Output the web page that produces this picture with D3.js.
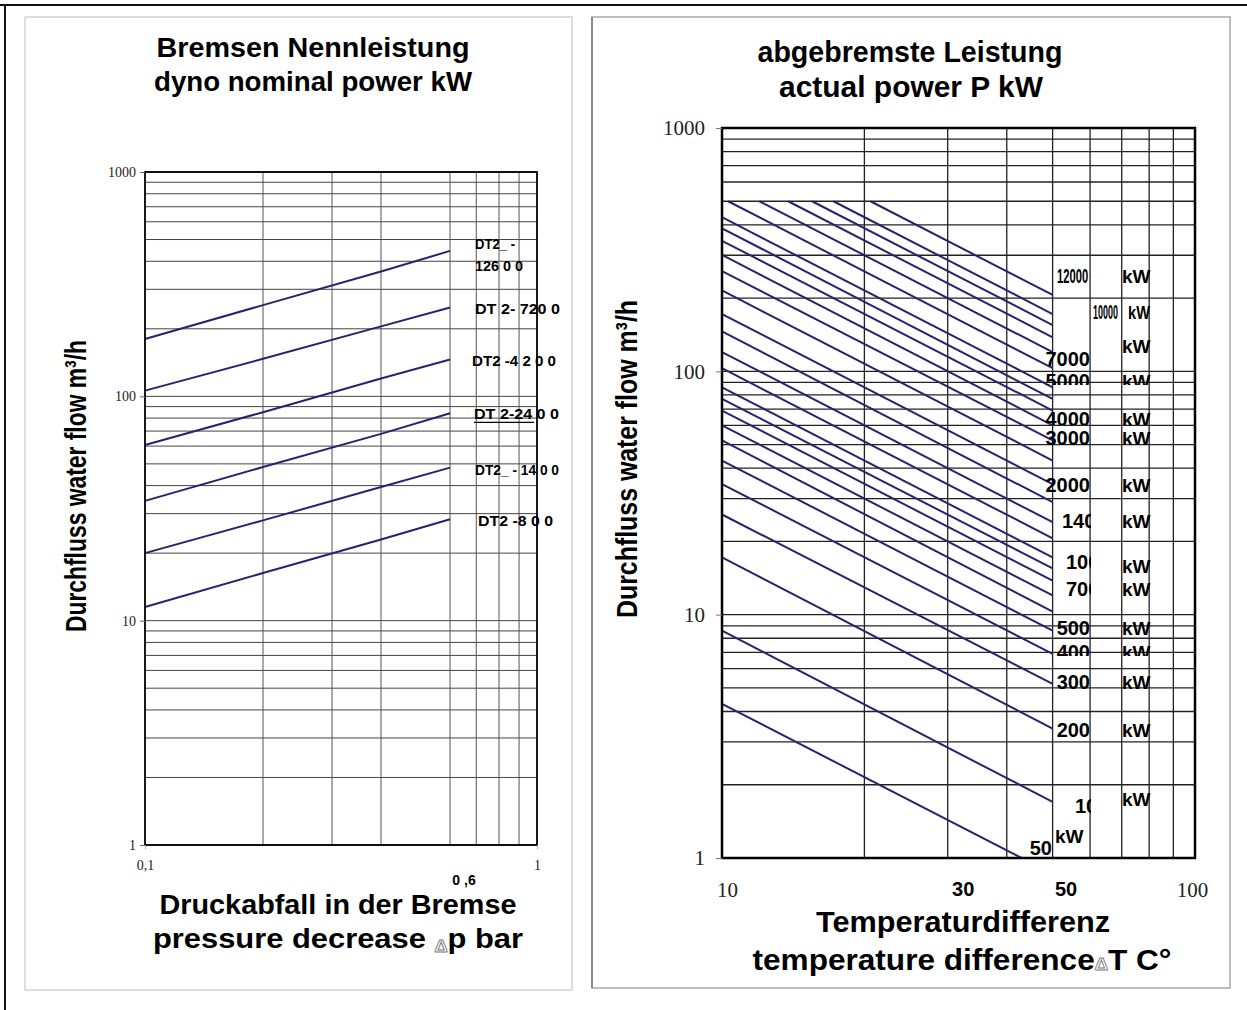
<!DOCTYPE html>
<html>
<head>
<meta charset="utf-8">
<script src="https://cdn.jsdelivr.net/npm/d3@7"></script>
<style>
  body { margin: 0; background: #fff; }
  text { font-family: "Liberation Sans", Arial, sans-serif; }
  .serif { font-family: "Liberation Serif", "Times New Roman", serif; }
</style>
</head>
<body>
<script>
// ---- left chart data (dyno nominal power) ----
const left_dp = [0.1, 0.2, 0.4, 0.6];
const left_names = ["DT2-12600", "DT2-7200", "DT2-4200", "DT2-2400", "DT2-1400", "DT2-800"];
const flow_12600 = [180, 255, 360, 445];
const flow_7200 = [106, 147, 205, 249];
const flow_4200 = [60.7, 85, 120, 146];
const flow_2400 = [34.2, 48.4, 68, 84];
const flow_1400 = [20, 28, 39.4, 48.1];
const flow_800 = [11.5, 16.3, 23, 28.3];
const left_label_text = [["DT2_ -", "126 0 0"], ["DT 2- 720 0"], ["DT2 -4 2 0 0"], ["DT 2-24 0 0"], ["DT2_ - 14 0 0"], ["DT2 -8 0 0"]];
const left_y_ticks = [1, 10, 100, 1000];
const left_x_ticks = [0.1, 1];
const left_x_grid = [0.2, 0.3, 0.4, 0.6, 0.7, 0.8, 0.9];

// ---- right chart data (actual power) ----
const right_power = [12000, 10000, 9000, 8000, 7000, 6000, 5000, 4500, 4000, 3500, 3000, 2500, 2000, 1700, 1400, 1200, 1000, 900, 800, 700, 600, 500, 400, 300, 200, 100, 50];
const right_start_dt = [20.6, 17.2, 15.5, 13.8, 12.0, 10.3, 10, 10, 10, 10, 10, 10, 10, 10, 10, 10, 10, 10, 10, 10, 10, 10, 10, 10, 10, 10, 10];
const right_start_flow = [500, 500, 500, 500, 500, 500, 430, 387, 344, 301, 258, 215, 172, 146, 120, 103, 86, 77, 69, 60, 52, 43, 34.4, 25.8, 17.2, 8.6, 4.3];
const right_end_dt = [50, 50, 50, 50, 50, 50, 50, 50, 50, 50, 50, 50, 50, 50, 50, 50, 50, 50, 50, 50, 50, 50, 50, 50, 50, 50, 43];
const right_end_flow = [206, 172, 155, 138, 120, 103, 86, 77, 69, 60, 52, 43, 34.4, 29, 24, 20.6, 17.2, 15.5, 13.8, 12, 10.3, 8.6, 6.9, 5.2, 3.4, 1.7, 1];
const right_label_power = [12000, 10000, 8000, 7000, 5000, 4000, 3000, 2000, 1400, 1000, 700, 500, 400, 300, 200, 100, 50];
const right_label_text = ["12000", "10000", "", "7000", "5000", "4000", "3000", "2000", "1400", "1000", "700", "500", "400", "300", "200", "100", "50"];
const right_y_ticks = [1, 10, 100, 1000];
const right_x_ticks = [10, 30, 50, 100];
const right_x_grid = [20, 30, 40, 50, 60, 70, 80, 90];

const W = 1247, H = 1010;
const svg = d3.select('body').append('svg').attr('width', W).attr('height', H);
const defs = svg.append('defs');
const navy = '#25246e';

// outer frame and panel frames
svg.append('line').attr('x1', 0).attr('x2', W).attr('y1', 5).attr('y2', 5).attr('stroke', '#111').attr('stroke-width', 2);
svg.append('line').attr('x1', 5).attr('x2', 5).attr('y1', 5).attr('y2', H).attr('stroke', '#111').attr('stroke-width', 2);
svg.append('rect').attr('x', 25).attr('y', 17).attr('width', 547).attr('height', 973)
  .attr('fill', 'none').attr('stroke', '#d4d4d4').attr('stroke-width', 1.5);
svg.append('rect').attr('x', 592).attr('y', 17).attr('width', 638).attr('height', 971)
  .attr('fill', 'none').attr('stroke', '#a8a8a8').attr('stroke-width', 1.5);
svg.append('line').attr('x1', 592).attr('x2', 592).attr('y1', 17).attr('y2', 988).attr('stroke', '#777').attr('stroke-width', 1.5);

// ================= LEFT CHART =================
const xL = d3.scaleLog().domain([0.1, 1]).range([145, 537]);
const yL = d3.scaleLog().domain([1, 1000]).range([845, 172]);
const gL = svg.append('g');

gL.selectAll('.hgrid').data(yL.ticks()).enter().append('line')
  .attr('x1', xL(0.1)).attr('x2', xL(1))
  .attr('y1', d => yL(d)).attr('y2', d => yL(d))
  .attr('stroke', '#444').attr('stroke-width', 1);
gL.selectAll('.vgrid').data(left_x_grid).enter().append('line')
  .attr('x1', d => xL(d)).attr('x2', d => xL(d))
  .attr('y1', yL(1)).attr('y2', yL(1000))
  .attr('stroke', '#555').attr('stroke-width', 1);

const left_series = [flow_12600, flow_7200, flow_4200, flow_2400, flow_1400, flow_800];
const lineL = d3.line().x(d => xL(d[0])).y(d => yL(d[1]));
gL.selectAll('.series').data(left_series).enter().append('path')
  .attr('d', s => lineL(left_dp.map((p, i) => [p, s[i]])))
  .attr('fill', 'none').attr('stroke', navy).attr('stroke-width', 2);

gL.append('rect').attr('x', xL(0.1)).attr('y', yL(1000))
  .attr('width', xL(1) - xL(0.1)).attr('height', yL(1) - yL(1000))
  .attr('fill', 'none').attr('stroke', '#000').attr('stroke-width', 1.8);

// series labels
const left_label_dy = [-2, 7, 7, 6, 7, 7];
const left_label_x = [475, 475, 472, 474, 475, 478];
const left_label_len = [[40, 48], [85], [84], [85], [84], [75]];
left_label_text.forEach((lines, i) => {
  const s = left_series[i];
  const y0 = yL(s[s.length - 1]) + left_label_dy[i];
  lines.forEach((t, j) => {
    gL.append('text').attr('x', left_label_x[i]).attr('y', y0 + j * 22)
      .attr('font-size', 14).attr('font-weight', 'bold').attr('fill', '#000')
      .attr('textLength', left_label_len[i][j]).attr('lengthAdjust', 'spacingAndGlyphs').text(t);
  });
});
// partial underline seen under DT 2-24
gL.append('line').attr('x1', 474).attr('x2', 534).attr('y1', yL(flow_2400[3]) + 9).attr('y2', yL(flow_2400[3]) + 9)
  .attr('stroke', '#000').attr('stroke-width', 1.2);

const axL = gL.append('g').attr('transform', `translate(${xL(0.1)},0)`)
  .call(d3.axisLeft(yL).tickValues(left_y_ticks).tickSize(5).tickSizeOuter(0).tickPadding(4).tickFormat(d => d));
axL.select('.domain').remove();
axL.selectAll('text').attr('class', 'serif').attr('font-size', 14).attr('fill', '#222');
axL.selectAll('line').attr('stroke', '#666');

const axLb = gL.append('g').attr('transform', `translate(0,${yL(1)})`)
  .call(d3.axisBottom(xL).tickValues(left_x_ticks).tickSize(4).tickSizeOuter(0).tickPadding(11)
    .tickFormat(d => d === 0.1 ? '0,1' : '1'));
axLb.select('.domain').remove();
axLb.selectAll('text').attr('class', 'serif').attr('font-size', 14).attr('fill', '#222');
axLb.selectAll('line').attr('stroke', '#aaa');

gL.append('text').attr('x', xL(0.6) + 14).attr('y', 885).attr('text-anchor', 'middle')
  .attr('font-size', 14).attr('font-weight', 'bold').text('0 ,6');

// titles
gL.append('text').attr('x', 313).attr('y', 57).attr('text-anchor', 'middle')
  .attr('font-size', 27).attr('font-weight', 'bold').attr('textLength', 313).attr('lengthAdjust', 'spacingAndGlyphs')
  .text('Bremsen Nennleistung');
gL.append('text').attr('x', 313).attr('y', 91).attr('text-anchor', 'middle')
  .attr('font-size', 27).attr('font-weight', 'bold').attr('textLength', 318).attr('lengthAdjust', 'spacingAndGlyphs')
  .text('dyno nominal power kW');

gL.append('text').attr('x', 338).attr('y', 914).attr('text-anchor', 'middle')
  .attr('font-size', 27).attr('font-weight', 'bold').attr('textLength', 357).attr('lengthAdjust', 'spacingAndGlyphs')
  .text('Druckabfall in der Bremse');
const ptL = gL.append('text').attr('x', 338).attr('y', 948).attr('text-anchor', 'middle')
  .attr('font-size', 27).attr('font-weight', 'bold').attr('textLength', 370).attr('lengthAdjust', 'spacingAndGlyphs');
ptL.append('tspan').text('pressure decrease ');
ptL.append('tspan').attr('font-size', 16).attr('fill', '#fff').attr('stroke', '#777').attr('stroke-width', 0.8).attr('dy', 4).text('Δ');
ptL.append('tspan').attr('dy', -4).text('p bar');

defs.append('clipPath').attr('id', 'clipYL').append('rect').attr('x', 61).attr('y', 0).attr('width', 60).attr('height', H);
gL.append('g').attr('clip-path', 'url(#clipYL)')
  .append('text').attr('transform', 'translate(86,486) rotate(-90)').attr('text-anchor', 'middle')
  .attr('font-size', 30).attr('font-weight', 'bold').attr('textLength', 292).attr('lengthAdjust', 'spacingAndGlyphs')
  .text('Durchfluss water flow m³/h');

// ================= RIGHT CHART =================
const xR = d3.scaleLog().domain([10, 100]).range([722, 1195]);
const yR = d3.scaleLog().domain([1, 1000]).range([858, 128]);
const gR = svg.append('g');

gR.selectAll('.hgrid').data(yR.ticks()).enter().append('line')
  .attr('x1', xR(10)).attr('x2', xR(100))
  .attr('y1', d => yR(d)).attr('y2', d => yR(d))
  .attr('stroke', '#222').attr('stroke-width', 1.3);
gR.selectAll('.vgrid').data(right_x_grid).enter().append('line')
  .attr('x1', d => xR(d)).attr('x2', d => xR(d))
  .attr('y1', yR(1)).attr('y2', yR(1000))
  .attr('stroke', '#222').attr('stroke-width', 1.3);

gR.selectAll('.pline').data(right_power).enter().append('line')
  .attr('x1', (d, i) => xR(right_start_dt[i])).attr('y1', (d, i) => yR(right_start_flow[i]))
  .attr('x2', (d, i) => xR(right_end_dt[i])).attr('y2', (d, i) => yR(right_end_flow[i]))
  .attr('stroke', navy).attr('stroke-width', 2);

gR.append('rect').attr('x', xR(10)).attr('y', yR(1000))
  .attr('width', xR(100) - xR(10)).attr('height', yR(1) - yR(1000))
  .attr('fill', 'none').attr('stroke', '#000').attr('stroke-width', 2.5);

// power labels at the line ends (sx / ksx: horizontal squeeze of the text)
const right_label_layout = [
  { nx: 1057, anchor: 'start', sx: 0.56, dy: -12, kx: 1122, kdy: -12 },
  { nx: 1093, anchor: 'start', sx: 0.45, dy: 5, kx: 1128, ksx: 0.77, kdy: 5 },
  { kx: 1122, kdy: 16 },
  { nx: 1090, anchor: 'end', dy: 14 },
  { nx: 1090, anchor: 'end', dy: 1, kx: 1122, kdy: 1, clipY: 385 },
  { nx: 1090, anchor: 'end', dy: 15, kx: 1122, kdy: 15, clipY: 425 },
  { nx: 1090, anchor: 'end', dy: 5, kx: 1122, kdy: 5 },
  { nx: 1090, anchor: 'end', dy: 8, kx: 1122, kdy: 8 },
  { nx: 1062, anchor: 'start', dy: 6, kx: 1122, kdy: 6, clipX: 1091 },
  { nx: 1066, anchor: 'start', dy: 12, kx: 1122, kdy: 16, clipX: 1091 },
  { nx: 1066, anchor: 'start', dy: 1, kx: 1122, kdy: 1, clipX: 1091 },
  { nx: 1090, anchor: 'end', dy: 4, kx: 1122, kdy: 4 },
  { nx: 1090, anchor: 'end', dy: 5, kx: 1122, kdy: 5, clipY: 656 },
  { nx: 1090, anchor: 'end', dy: 5, kx: 1122, kdy: 5 },
  { nx: 1090, anchor: 'end', dy: 8, kx: 1122, kdy: 8 },
  { nx: 1075, anchor: 'start', dy: 11, kx: 1122, kdy: 4, clipX: 1091 },
  { nx: 1052, anchor: 'end', dy: -3, kx: 1055, kdy: -15 }
];
right_label_power.forEach((p, i) => {
  const L = right_label_layout[i];
  const k = right_power.indexOf(p);
  const yEnd = yR(right_end_flow[k]);
  defs.append('clipPath').attr('id', 'clipN' + i).append('rect')
    .attr('x', 0).attr('y', 0).attr('width', L.clipX || W).attr('height', L.clipY || H);
  defs.append('clipPath').attr('id', 'clipK' + i).append('rect')
    .attr('x', 0).attr('y', 0).attr('width', W).attr('height', L.clipY || H);
  if (right_label_text[i] !== '') {
    gR.append('g').attr('clip-path', `url(#clipN${i})`)
      .append('text').attr('transform', `translate(${L.nx},${yEnd + L.dy}) scale(${L.sx || 1},1)`)
      .attr('text-anchor', L.anchor)
      .attr('font-size', 20).attr('font-weight', 'bold').attr('fill', '#000').text(right_label_text[i]);
  }
  if (L.kx) {
    gR.append('g').attr('clip-path', `url(#clipK${i})`)
      .append('text').attr('transform', `translate(${L.kx},${yEnd + L.kdy}) scale(${L.ksx || 1},1)`)
      .attr('font-size', 19).attr('font-weight', 'bold').attr('fill', '#000').text('kW');
  }
});

const axR = gR.append('g').attr('transform', `translate(${xR(10)},0)`)
  .call(d3.axisLeft(yR).tickValues(right_y_ticks).tickSize(6).tickSizeOuter(0).tickPadding(11).tickFormat(d => d));
axR.select('.domain').remove();
axR.selectAll('text').attr('class', 'serif').attr('font-size', 21).attr('fill', '#222');
axR.selectAll('line').attr('stroke', '#777');

const axRb = gR.append('g').attr('transform', `translate(0,${yR(1)})`)
  .call(d3.axisBottom(xR).tickValues(right_x_ticks).tickSize(0).tickSizeOuter(0).tickPadding(24).tickFormat(d => d));
axRb.select('.domain').remove();
axRb.selectAll('.tick text')
  .attr('class', d => (d === 30 || d === 50) ? null : 'serif')
  .attr('font-weight', d => (d === 30 || d === 50) ? 'bold' : 'normal')
  .attr('font-size', d => (d === 30 || d === 50) ? 20 : 21)
  .attr('dx', d => d === 30 ? 15 : d === 50 ? 13 : d === 10 ? 5 : -3)
  .attr('fill', d => (d === 30 || d === 50) ? '#000' : '#222');

gR.append('text').attr('x', 910).attr('y', 62).attr('text-anchor', 'middle')
  .attr('font-size', 30).attr('font-weight', 'bold').attr('textLength', 305).attr('lengthAdjust', 'spacingAndGlyphs')
  .text('abgebremste Leistung');
gR.append('text').attr('x', 911).attr('y', 97).attr('text-anchor', 'middle')
  .attr('font-size', 30).attr('font-weight', 'bold').attr('textLength', 264).attr('lengthAdjust', 'spacingAndGlyphs')
  .text('actual power P kW');

gR.append('text').attr('x', 963).attr('y', 932).attr('text-anchor', 'middle')
  .attr('font-size', 29).attr('font-weight', 'bold').attr('textLength', 294).attr('lengthAdjust', 'spacingAndGlyphs')
  .text('Temperaturdifferenz');
const ptR = gR.append('text').attr('x', 962).attr('y', 970).attr('text-anchor', 'middle')
  .attr('font-size', 29).attr('font-weight', 'bold').attr('textLength', 419).attr('lengthAdjust', 'spacingAndGlyphs');
ptR.append('tspan').text('temperature difference');
ptR.append('tspan').attr('font-size', 17).attr('fill', '#fff').attr('stroke', '#777').attr('stroke-width', 0.8).text('Δ');
ptR.append('tspan').text('T C°');

defs.append('clipPath').attr('id', 'clipYR').append('rect').attr('x', 612).attr('y', 0).attr('width', 60).attr('height', H);
gR.append('g').attr('clip-path', 'url(#clipYR)')
  .append('text').attr('transform', 'translate(637,459) rotate(-90)').attr('text-anchor', 'middle')
  .attr('font-size', 30).attr('font-weight', 'bold').attr('textLength', 318).attr('lengthAdjust', 'spacingAndGlyphs')
  .text('Durchfluss water flow m³/h');
</script>
</body>
</html>
